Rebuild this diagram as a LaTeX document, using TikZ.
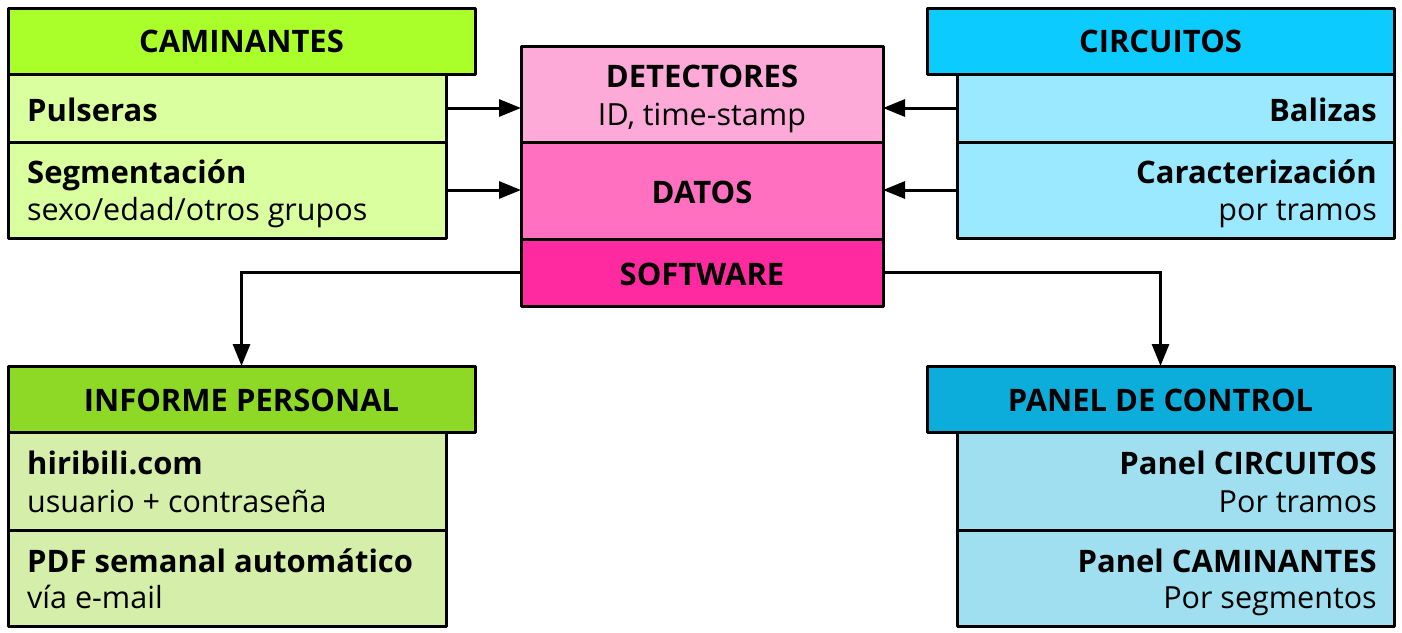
\documentclass[tikz,border=0pt]{standalone}
\usepackage{fontspec}
\setmainfont{Open Sans}
\usetikzlibrary{arrows.meta}
\definecolor{camH}{HTML}{AAFF2A}
\definecolor{camS}{HTML}{D9FF9E}
\definecolor{cirH}{HTML}{0CCCFF}
\definecolor{cirS}{HTML}{9BE9FF}
\definecolor{detC}{HTML}{FDAAD8}
\definecolor{datC}{HTML}{FF70C0}
\definecolor{sofC}{HTML}{FF2AA0}
\definecolor{infH}{HTML}{8ED926}
\definecolor{infS}{HTML}{D5EEAA}
\definecolor{panH}{HTML}{0CADDB}
\definecolor{panS}{HTML}{A0DFF0}
\begin{document}
\begin{tikzpicture}[x=1pt,y=-1pt,
  box/.style={draw=black,line width=3pt,rectangle,inner sep=0pt,outer sep=0pt,line join=round},
  arr/.style={line width=3pt,-{Triangle[length=22pt,width=17pt]}},
  tb/.style={inner sep=0pt,font=\fontsize{31}{36}\selectfont\bfseries},
  tr/.style={inner sep=0pt,font=\fontsize{30.5}{36}\selectfont},
]
\useasboundingbox (0,0) rectangle (1402,632);
% left top
\node[box,fill=camS,minimum width=438pt,minimum height=68pt] (cam1) at (227,108) {};
\node[box,fill=camS,minimum width=438pt,minimum height=96pt] (cam2) at (227,190) {};
\node[box,fill=camH,minimum width=467pt,minimum height=66pt] (camh) at (241.5,41) {};
% right top
\node[box,fill=cirS,minimum width=437pt,minimum height=68pt] (cir1) at (1175.5,108) {};
\node[box,fill=cirS,minimum width=437pt,minimum height=96pt] (cir2) at (1175.5,190) {};
\node[box,fill=cirH,minimum width=467pt,minimum height=66pt] (cirh) at (1160.5,41) {};
% center
\node[box,fill=detC,minimum width=362pt,minimum height=96pt] (det) at (702,94) {};
\node[box,fill=datC,minimum width=362pt,minimum height=97pt] (dat) at (702,190.5) {};
\node[box,fill=sofC,minimum width=362pt,minimum height=67pt] (sof) at (702,272.5) {};
% bottom left
\node[box,fill=infS,minimum width=438pt,minimum height=98pt] (inf1) at (227,481) {};
\node[box,fill=infS,minimum width=438pt,minimum height=96pt] (inf2) at (227,578) {};
\node[box,fill=infH,minimum width=467pt,minimum height=66pt] (infh) at (241.5,399) {};
% bottom right
\node[box,fill=panS,minimum width=437pt,minimum height=98pt] (pan1) at (1175.5,481) {};
\node[box,fill=panS,minimum width=437pt,minimum height=96pt] (pan2) at (1175.5,578) {};
\node[box,fill=panH,minimum width=467pt,minimum height=66pt] (panh) at (1160.5,399) {};
% connectors
\draw[arr] (cam1.east) -- (cam1.east -| det.west);
\draw[arr] (cam2.east) -- (cam2.east -| dat.west);
\draw[arr] (cir1.west) -- (cir1.west -| det.east);
\draw[arr] (cir2.west) -- (cir2.west -| dat.east);
\draw[arr] (sof.west) -| (infh.north);
\draw[arr] (sof.east) -| (panh.north);
% texts
\node[tb,anchor=base] (tcamh) at (241.5,52) {CAMINANTES};
\node[tb,anchor=base west] (tcam1) at (27,121) {Pulseras};
\node[tb,anchor=base west] (tcam2a) at (27,183) {Segmentación};
\node[tr,anchor=base west] (tcam2b) at (27,220) {sexo/edad/otros grupos};
\node[tb,anchor=base] (tcirh) at (1160.5,52) {CIRCUITOS};
\node[tb,anchor=base east] (tcir1) at (1377,121) {Balizas};
\node[tb,anchor=base east] (tcir2a) at (1377,183) {Caracterización};
\node[tr,anchor=base east] (tcir2b) at (1377,220) {por tramos};
\node[tb,anchor=base] (tdeta) at (702,87) {DETECTORES};
\node[tr,anchor=base] (tdetb) at (702,125) {ID, time-stamp};
\node[tb,anchor=base] (tdat) at (702,203) {DATOS};
\node[tb,anchor=base] (tsof) at (702,285) {SOFTWARE};
\node[tb,anchor=base] (tinfh) at (241.5,411) {INFORME PERSONAL};
\node[tb,anchor=base west] (tinf1a) at (27,474) {hiribili.com};
\node[tr,anchor=base west] (tinf1b) at (27,512) {usuario + contraseña};
\node[tb,anchor=base west] (tinf2a) at (27,572) {PDF semanal automático};
\node[tr,anchor=base west] (tinf2b) at (27,608) {vía e-mail};
\node[tb,anchor=base] (tpanh) at (1160.5,411) {PANEL DE CONTROL};
\node[tb,anchor=base east] (tpan1a) at (1377,474) {Panel CIRCUITOS};
\node[tr,anchor=base east] (tpan1b) at (1377,512) {Por tramos};
\node[tb,anchor=base east] (tpan2a) at (1377,572) {Panel CAMINANTES};
\node[tr,anchor=base east] (tpan2b) at (1377,608) {Por segmentos};
\end{tikzpicture}
\end{document}
